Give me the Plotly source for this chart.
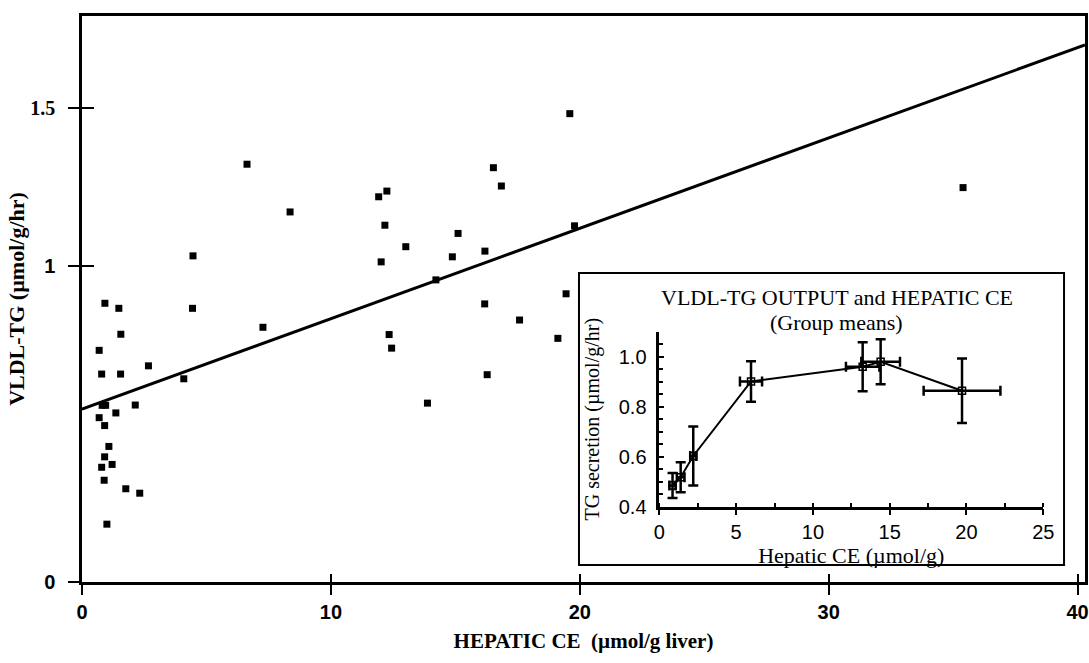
import numpy as np
import plotly.graph_objects as go

# ---- main scatter data (individual animals) ----
main_x = [0.92, 1.48, 4.44, 7.27, 1.56, 0.69, 0.79, 1.55, 2.67, 4.09, 0.81, 0.95,
          2.14, 1.36, 0.69, 0.91, 1.08, 0.91, 0.79, 1.21, 0.89, 1.76, 2.32, 1.00,
          6.63, 8.36, 4.46, 16.53, 16.85, 11.92, 12.25, 12.17, 15.11, 13.01, 12.02,
          14.88, 16.19, 19.79, 14.22, 19.45, 16.18, 17.58, 12.34, 12.44, 19.12,
          16.28, 13.88, 19.60, 35.40]
main_y = [0.882, 0.866, 0.866, 0.806, 0.784, 0.733, 0.658, 0.658, 0.684, 0.643,
          0.559, 0.559, 0.560, 0.535, 0.520, 0.495, 0.429, 0.396, 0.363, 0.372,
          0.322, 0.295, 0.281, 0.183, 1.322, 1.171, 1.032, 1.311, 1.253, 1.219,
          1.237, 1.129, 1.103, 1.061, 1.013, 1.029, 1.047, 1.127, 0.956, 0.912,
          0.880, 0.829, 0.783, 0.740, 0.771, 0.656, 0.566, 1.482, 1.248]

# regression line parameters
reg_intercept = 0.547
reg_slope = 0.0286
reg_x = [0.0, 40.3]

# ---- inset: group means ----
grp_x = [0.86, 1.39, 2.21, 5.97, 13.24, 14.41, 19.71]
grp_y = [0.485, 0.518, 0.603, 0.901, 0.960, 0.980, 0.864]
grp_xerr = [0.2, 0.25, 0.2, 0.72, 1.09, 1.26, 2.5]
grp_yerr = [0.05, 0.06, 0.118, 0.081, 0.098, 0.09, 0.129]

main_xticks = [0, 10, 20, 30, 40]
main_xticklabels = ["<b>0</b>", "<b>10</b>", "<b>20</b>", "<b>30</b>", "<b>40</b>"]
main_yticks = [0, 1, 1.5]
main_yticklabels = ["<b>0</b>", "<b>1</b>",
                    "<span style='font-family:Liberation Serif'><b>1.5</b></span>"]
inset_xticks = [0, 5, 10, 15, 20, 25]
inset_yticks = [0.4, 0.6, 0.8, 1.0]

SERIF = "Liberation Serif, Times New Roman, serif"
SANS = "Liberation Sans, Arial, sans-serif"

reg_y = (reg_intercept + reg_slope * np.array(reg_x)).tolist()

fig = go.Figure()
fig.add_trace(go.Scatter(x=main_x, y=main_y, mode="markers",
                         marker=dict(symbol="square", size=7, color="black"),
                         xaxis="x", yaxis="y", hoverinfo="x+y"))
fig.add_trace(go.Scatter(x=reg_x, y=reg_y, mode="lines",
                         line=dict(color="black", width=3),
                         xaxis="x", yaxis="y"))
fig.add_trace(go.Scatter(x=grp_x, y=grp_y, mode="lines+markers",
                         line=dict(color="black", width=2),
                         marker=dict(symbol="square-open", size=7, color="black",
                                     line=dict(width=1.5, color="black")),
                         error_x=dict(type="data", array=grp_xerr, color="black",
                                      thickness=2.5, width=5),
                         error_y=dict(type="data", array=grp_yerr, color="black",
                                      thickness=2.5, width=5),
                         xaxis="x2", yaxis="y2"))
# invisible trace so the overlay tick axes get drawn
fig.add_trace(go.Scatter(x=[main_xticks[0]], y=[main_yticks[0]], mode="markers",
                         marker=dict(opacity=0), xaxis="x3", yaxis="y3",
                         hoverinfo="skip"))

fig.update_layout(
    width=1089, height=663,
    margin=dict(l=82, r=4, t=16, b=81),
    paper_bgcolor="white", plot_bgcolor="white",
    showlegend=False,
    xaxis=dict(range=[0, 40.3], tickvals=main_xticks, ticktext=main_xticklabels,
               ticks="outside", ticklen=10, automargin=False, ticklabeloverflow="allow",
               tickwidth=2, tickcolor="black", showline=True, linewidth=2.5,
               linecolor="black", mirror=True, showgrid=False, zeroline=False,
               tickfont=dict(family=SANS, size=20, color="black"),
               title=dict(text="HEPATIC CE\u00a0\u00a0(\u00b5mol/g liver)", standoff=12,
                          font=dict(family=SERIF, size=21, color="black", weight="bold"))),
    yaxis=dict(range=[0, 1.791], tickvals=main_yticks, ticktext=main_yticklabels,
               ticks="outside", ticklen=11, tickwidth=2, tickcolor="black",
               ticklabelstandoff=9, automargin=False, ticklabeloverflow="allow",
               showline=True, linewidth=2.5, linecolor="black", mirror=True,
               showgrid=False, zeroline=False,
               tickfont=dict(family=SANS, size=20, color="black"),
               title=dict(text="VLDL-TG (\u00b5mol/g/hr)", standoff=0,
                          font=dict(family=SERIF, size=22, color="black", weight="bold"))),
    xaxis3=dict(range=[0, 40.3], overlaying="x", anchor="y", tickvals=main_xticks,
                ticks="inside", ticklen=8, tickwidth=2, tickcolor="black", automargin=False,
                showticklabels=False, showline=False, showgrid=False, zeroline=False),
    yaxis3=dict(range=[0, 1.791], overlaying="y", anchor="x", tickvals=main_yticks,
                ticks="inside", ticklen=12, tickwidth=2, tickcolor="black", automargin=False,
                showticklabels=False, showline=False, showgrid=False, zeroline=False),
    xaxis2=dict(domain=[0.5756, 0.9584], anchor="y2", range=[0, 25], automargin=False,
                tickvals=inset_xticks, ticks="outside", ticklen=6, tickwidth=2,
                tickcolor="black", showline=True, linewidth=2.5, linecolor="black",
                showgrid=False, zeroline=False, ticklabeloverflow="allow",
                minor=dict(dtick=2.5, ticks="inside", ticklen=4, tickwidth=1.5,
                           tickcolor="black", showgrid=False),
                tickfont=dict(family=SANS, size=20, color="black"),
                title=dict(text="Hepatic CE (\u00b5mol/g)", standoff=2,
                           font=dict(family=SERIF, size=22, color="black"))),
    yaxis2=dict(domain=[0.1330, 0.4422], anchor="x2", range=[0.4, 1.1], automargin=False,
                tickvals=inset_yticks, tickformat=".1f", ticks="inside", ticklen=5,
                tickwidth=2, tickcolor="black", showline=True, linewidth=2.5,
                linecolor="black", showgrid=False, zeroline=False,
                ticklabelstandoff=6, ticklabeloverflow="allow",
                minor=dict(dtick=0.05, ticks="inside", ticklen=4, tickwidth=1.5,
                           tickcolor="black", showgrid=False),
                tickfont=dict(family=SANS, size=20, color="black"),
                title=dict(text="TG secretion (\u00b5mol/g/hr)", standoff=14,
                           font=dict(family=SERIF, size=20, color="black"))),
    shapes=[dict(type="rect", xref="paper", yref="paper",
                 x0=0.4955, x1=0.9791, y0=0.0300, y1=0.5459,
                 line=dict(color="black", width=2), fillcolor="white", layer="below")],
    annotations=[
        dict(text="VLDL-TG OUTPUT and HEPATIC CE", xref="paper", yref="paper",
             x=0.7527, y=0.5018, showarrow=False, xanchor="center", yanchor="middle",
             font=dict(family=SERIF, size=22, color="black")),
        dict(text="(Group means)", xref="paper", yref="paper",
             x=0.7527, y=0.4576, showarrow=False, xanchor="center", yanchor="middle",
             font=dict(family=SERIF, size=22, color="black")),
    ],
)

fig.write_html("out.html")
